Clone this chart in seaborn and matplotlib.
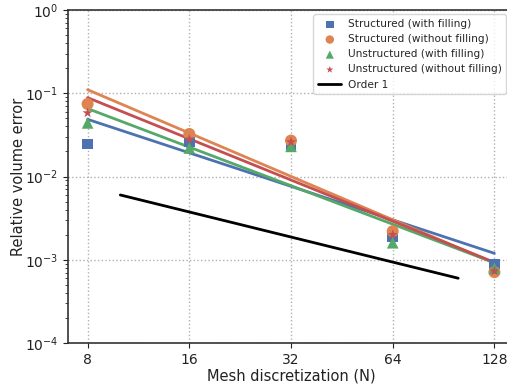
import numpy as np
import pandas as pd
import matplotlib
matplotlib.use("Agg")
import matplotlib.pyplot as plt
import seaborn as sns
from matplotlib.ticker import FixedLocator, FixedFormatter, LogLocator, NullFormatter

N = [8, 16, 32, 64, 128]
series_names = ["Structured (with filling)", "Structured (without filling)",
                "Unstructured (with filling)", "Unstructured (without filling)"]
struct_fill = [0.0246, 0.026, 0.024, 0.00188, 0.00089]
struct_nofill = [0.0743, 0.0324, 0.027, 0.0022, 0.00071]
unstruct_fill = [0.044, 0.022, 0.023, 0.0016, 0.00079]
unstruct_nofill = [0.058, 0.028, 0.026, 0.0020, 0.00073]
order1_N = [10, 100]
order1_err = [0.006, 0.0006]
x_ticks = [8, 16, 32, 64, 128]

sns.set_style("ticks")
plt.rcParams['font.family'] = ['DejaVu Sans']

pal = sns.color_palette("deep")
colors = [pal[0], pal[1], pal[2], pal[3]]
markers = ["s", "o", "^", "*"]
msizes = [60, 75, 70, 60]

fig = plt.figure(figsize=(5.07, 3.86), dpi=100)
ax = fig.add_axes([68/507, 1 - 343/386, (514 - 68)/507, (343 - 10)/386])

all_data = [struct_fill, struct_nofill, unstruct_fill, unstruct_nofill]
df = pd.DataFrame({
    "N": np.tile(N, 4),
    "err": np.concatenate(all_data),
    "series": np.repeat(series_names, len(N)),
})

# fitted lines (least squares in log-log)
for name, vals, c in zip(series_names, all_data, colors):
    lx = np.log2(N)
    ly = np.log10(vals)
    p = np.polyfit(lx, ly, 1)
    fit = pd.DataFrame({"N": N, "fit": 10 ** np.polyval(p, lx)})
    sns.lineplot(data=fit, x="N", y="fit", color=c, lw=2, ax=ax, legend=False)

for name, c, m, s in zip(series_names, colors, markers, msizes):
    sub = df[df["series"] == name]
    sns.scatterplot(data=sub, x="N", y="err", color=c, marker=m, s=s,
                    edgecolor="none", ax=ax, label=name, zorder=5)

sns.lineplot(x=order1_N, y=order1_err, color="black", lw=2, ax=ax, label="Order 1")

ax.set_xscale("log", base=2)
ax.set_yscale("log")
ax.set_xlim(7, 128 * 8 / 7)
ax.set_ylim(1e-4, 1)
ax.xaxis.set_major_locator(FixedLocator(x_ticks))
ax.xaxis.set_major_formatter(FixedFormatter([str(t) for t in x_ticks]))
ax.xaxis.set_minor_locator(FixedLocator([]))
ax.yaxis.set_major_locator(LogLocator(base=10, numticks=10))
ax.yaxis.set_minor_locator(LogLocator(base=10, subs=np.arange(2, 10), numticks=10))
ax.yaxis.set_minor_formatter(NullFormatter())
ax.grid(True, which="major", linestyle=":", color="#b0b0b0", lw=1)
ax.tick_params(labelsize=10, colors="#222222")
for sp in ax.spines.values():
    sp.set_color("#333333")
    sp.set_linewidth(1.2)
ax.set_xlabel("Mesh discretization (N)", fontsize=10.5, color="#222222", labelpad=1)
ax.set_ylabel("Relative volume error", fontsize=10.5, color="#222222", labelpad=-1)

ax.legend(loc="upper right", bbox_to_anchor=(0.99, 0.996), fontsize=7.6, frameon=True,
          handlelength=2.2, handletextpad=0.6, borderpad=0.45, labelspacing=0.48,
          markerscale=0.7, borderaxespad=0.3)

fig.savefig("out.png", dpi=100)
